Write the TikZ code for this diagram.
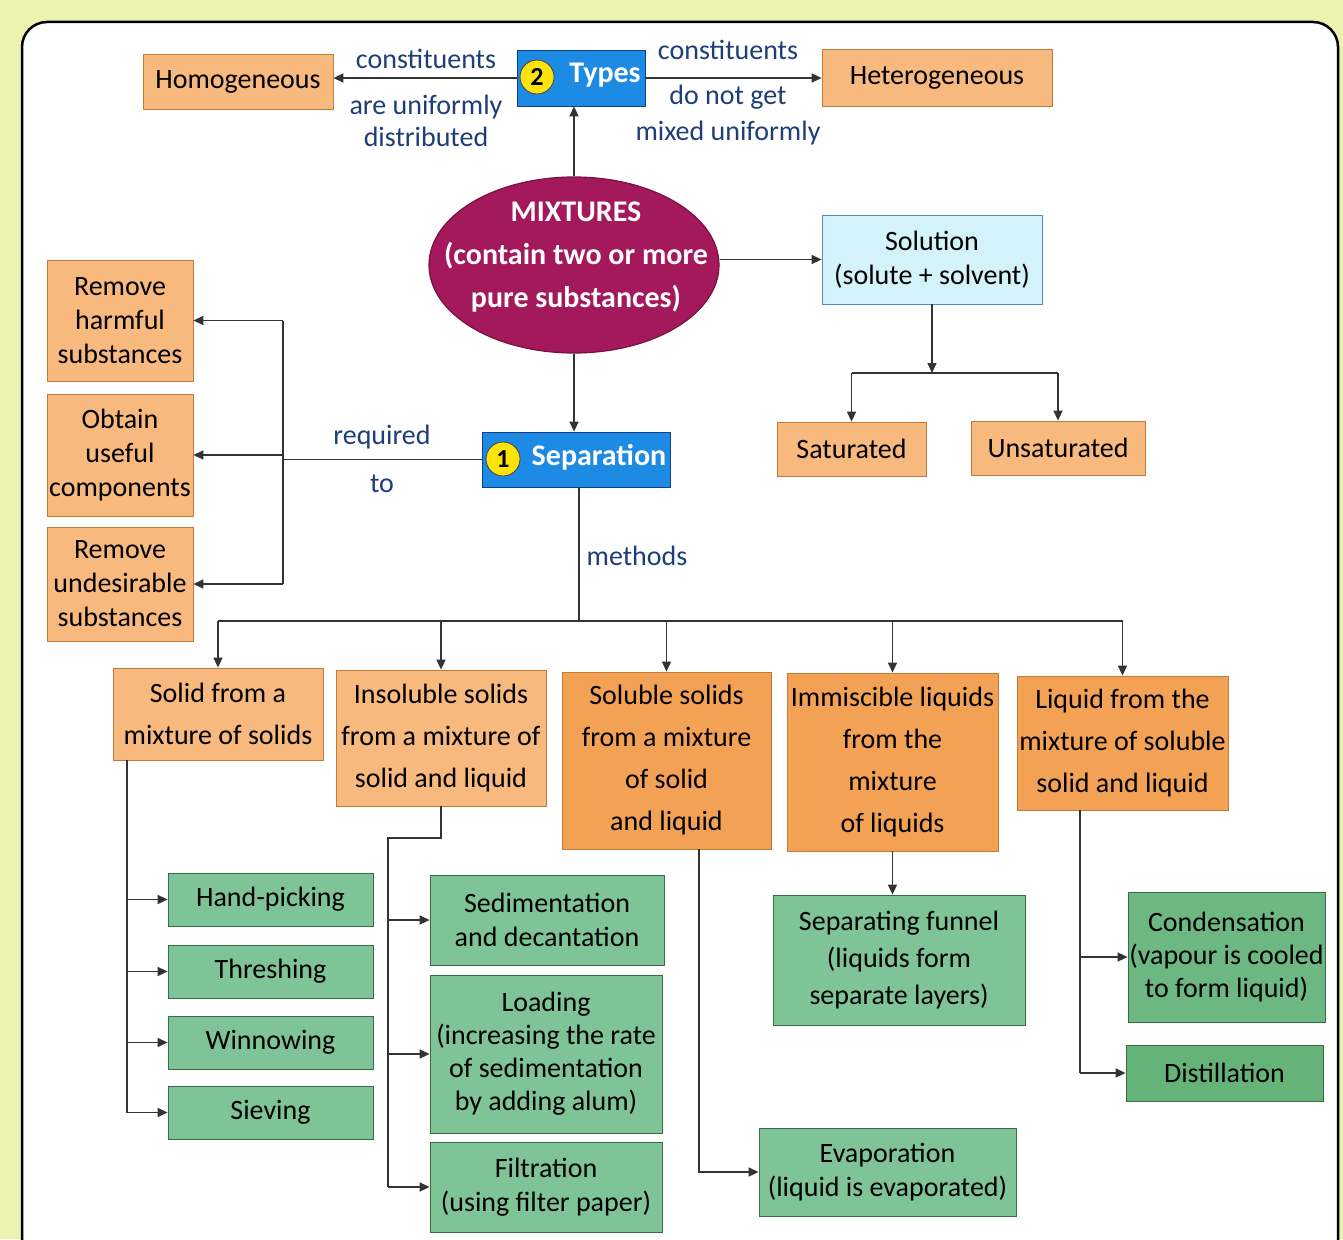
\documentclass[tikz,border=0pt]{standalone}
\usepackage{fontspec}
\setmainfont{Carlito}
\usetikzlibrary{arrows.meta,shapes.geometric}
\definecolor{limebg}{HTML}{ECF3B0}
\definecolor{ofill}{HTML}{F7B97D}
\definecolor{ofillB}{HTML}{F3A255}
\definecolor{oborder}{HTML}{C27A36}
\definecolor{gfill}{HTML}{7EC496}
\definecolor{gfillB}{HTML}{66B37A}
\definecolor{gborder}{HTML}{356E45}
\definecolor{bfill}{HTML}{1D8AE4}
\definecolor{bborder}{HTML}{123F8A}
\definecolor{sfill}{HTML}{D4F2FA}
\definecolor{sborder}{HTML}{4D8FC0}
\definecolor{mixfill}{HTML}{A3195B}
\definecolor{mixborder}{HTML}{7A1040}
\definecolor{yel}{HTML}{FDE30C}
\definecolor{lineclr}{HTML}{333333}
\definecolor{lblclr}{HTML}{1D3E78}
\begin{document}
\begin{tikzpicture}[x=1pt,y=-1pt,
  every node/.style={font=\fontsize{28}{34}\selectfont},
  sz/.style 2 args={minimum width=#1pt, minimum height=#2pt},
  obox/.style={draw=oborder, fill=ofill, align=center, inner sep=0pt, line width=0.8pt},
  oboxB/.style={obox, fill=ofillB},
  rowtxt/.style={font=\fontsize{28}{42}\selectfont},
  gbox/.style={draw=gborder, fill=gfill, align=center, inner sep=0pt, line width=0.8pt},
  bbox/.style={draw=bborder, fill=bfill, inner sep=0pt, line width=0.8pt},
  numc/.style={circle, fill=yel, draw=black!75, line width=0.8pt, minimum size=34pt, inner sep=0pt, font=\bfseries\fontsize{26}{26}\selectfont},
  wtxt/.style={text=white, inner sep=0pt, font=\bfseries\fontsize{30}{34}\selectfont},
  lbl/.style={text=lblclr, inner sep=0pt, align=center},
  ln/.style={draw=lineclr, line width=1.5pt},
  arr/.style={ln, -{Triangle[length=10pt,width=9pt]}},
]
\useasboundingbox (0,0) rectangle (1343,1239);
\fill[limebg] (0,0) rectangle (1343,1239);
\filldraw[fill=white, draw=black, line width=2.5pt, rounded corners=25pt] (22,22) rectangle (1338,1300);

% top row
\node[obox, sz={190}{55}] (homog) at (238,82) {Homogeneous};
\node[obox, sz={230}{57}] (hetero) at (937,77.5) {Heterogeneous};
\node[bbox, sz={128}{56}] (types) at (581,78) {};
\node[numc] (n2) at (537,77) {2};
\node[wtxt] (typestxt) at (605,75) {Types};

\node[lbl] (l1) at (426,59) {constituents};
\node[lbl, font=\fontsize{28}{32}\selectfont] (l2) at (426,121) {are uniformly\\distributed};
\node[lbl] (r1) at (728,50) {constituents};
\node[lbl, font=\fontsize{28}{36}\selectfont] (r2) at (728,115) {do not get\\mixed uniformly};

% mixtures
\node[ellipse, fill=mixfill, draw=mixborder, line width=1.2pt, minimum width=290pt, minimum height=176pt, inner sep=0pt] (mix) at (574,265) {};
\node[text=white, align=center, inner sep=0pt, font=\bfseries\fontsize{30}{43}\selectfont] (mixtxt) at (576,257) {MIXTURES\\(contain two or more\\pure substances)};

\node[draw=sborder, fill=sfill, align=center, inner sep=0pt, line width=0.8pt, sz={220}{89}] (solution) at (932,259.5) {Solution\\(solute + solvent)};
\node[obox, sz={149}{54}] (sat) at (851.5,449) {Saturated};
\node[obox, sz={174}{54}] (unsat) at (1058,448) {Unsaturated};

% separation
\node[bbox, sz={188}{55}] (sep) at (576,459.5) {};
\node[numc] (n1) at (503,459) {1};
\node[wtxt] (septxt) at (599,457) {Separation};

\node[obox, sz={146}{121}] (harm) at (120,320.5) {Remove\\harmful\\substances};
\node[obox, sz={146}{122}] (obtain) at (120,455) {Obtain\\useful\\components};
\node[obox, sz={146}{114}] (undes) at (120,584) {Remove\\undesirable\\substances};

\node[lbl] (req) at (382,437) {required};
\node[lbl] (to) at (382,484) {to};
\node[lbl] (meth) at (637,556) {methods};

% method categories
\node[obox, rowtxt, sz={210}{92}] (b1) at (218,714) {Solid from a\\mixture of solids};
\node[obox, rowtxt, sz={210}{136}] (b2) at (441,738) {Insoluble solids\\from a mixture of\\solid and liquid};
\node[oboxB, rowtxt, sz={209}{177}] (b3) at (666.5,760.5) {Soluble solids\\from a mixture\\of solid\\and liquid};
\node[oboxB, rowtxt, sz={211}{178}] (b4) at (892.5,762) {Immiscible liquids\\from the\\mixture\\of liquids};
\node[oboxB, rowtxt, sz={211}{134}] (b5) at (1122.5,743) {Liquid from the\\mixture of soluble\\solid and liquid};

% green methods
\node[gbox, sz={205}{53}] (hand) at (270.5,899.5) {Hand-picking};
\node[gbox, sz={205}{53}] (thresh) at (270.5,971.5) {Threshing};
\node[gbox, sz={205}{53}] (winnow) at (270.5,1042.5) {Winnowing};
\node[gbox, sz={205}{53}] (sieve) at (270.5,1112.5) {Sieving};

\node[gbox, sz={234}{90}] (sed) at (547,920) {Sedimentation\\and decantation};
\node[gbox, font=\fontsize{28}{33}\selectfont, sz={232}{158}] (load) at (546,1054) {Loading\\(increasing the rate\\of sedimentation\\by adding alum)};
\node[gbox, sz={232}{90}] (filt) at (546,1187) {Filtration\\(using filter paper)};

\node[gbox, sz={257}{88}] (evap) at (887.5,1172) {Evaporation\\(liquid is evaporated)};
\node[gbox, font=\fontsize{28}{37}\selectfont, sz={252}{130}] (sepf) at (899,960) {Separating funnel\\(liquids form\\separate layers)};
\node[gbox, fill=gfillB!70!gfill, font=\fontsize{28}{33}\selectfont, sz={197}{130}] (cond) at (1226.5,957) {Condensation\\(vapour is cooled\\to form liquid)};
\node[gbox, fill=gfillB, sz={197}{56}] (dist) at (1224.5,1073) {Distillation};

% connectors top
\draw[arr] (types.west) -- (types.west -| homog.east);
\draw[arr] (types.east) -- (types.east -| hetero.west);
\draw[arr] (mix.north) -- (mix.north |- types.south);
\draw[arr] (mix.east |- solution.west) -- (solution.west);
\draw[arr] (mix.south) -- (mix.south |- sep.north);

% solution branches
\coordinate (sj) at (932,373);
\draw[arr] (solution.south) -- (sj);
\draw[ln] (sat.north |- sj) -- (unsat.north |- sj);
\draw[arr] (sat.north |- sj) -- (sat.north);
\draw[arr] (unsat.north |- sj) -- (unsat.north);

% required to
\coordinate (lj) at (283,459.5);
\draw[ln] (sep.west) -- (lj);
\draw[ln] (lj |- harm.east) -- (lj |- undes.east);
\draw[arr] (lj |- harm.east) -- (harm.east);
\draw[arr] (lj |- obtain.east) -- (obtain.east);
\draw[arr] (lj |- undes.east) -- (undes.east);

% methods
\coordinate (mj) at (579,621);
\draw[ln] (sep.south -| mj) -- (mj);
\draw[ln] (b1.north |- mj) -- (b5.north |- mj);
\foreach \b in {b1,b2,b3,b4,b5}{\draw[arr] (\b.north |- mj) -- (\b.north);}

% column 1
\coordinate (c1) at (127,0);
\draw[ln] (c1 |- b1.south) -- (c1 |- sieve.west);
\foreach \g in {hand,thresh,winnow,sieve}{\draw[arr] (c1 |- \g.west) -- (\g.west);}

% column 2
\coordinate (k2) at (388,838);
\draw[ln] (b2.south) |- (k2) -- (k2 |- filt.west);
\foreach \g in {sed,load,filt}{\draw[arr] (k2 |- \g.west) -- (\g.west);}

% column 3
\coordinate (c3) at (699,0);
\draw[arr] (c3 |- b3.south) |- (evap.west);

% column 4
\draw[arr] (b4.south) -- (b4.south |- sepf.north);

% column 5
\coordinate (c5) at (1080,0);
\draw[ln] (c5 |- b5.south) -- (c5 |- dist.west);
\draw[arr] (c5 |- cond.west) -- (cond.west);
\draw[arr] (c5 |- dist.west) -- (dist.west);
\end{tikzpicture}
\end{document}
